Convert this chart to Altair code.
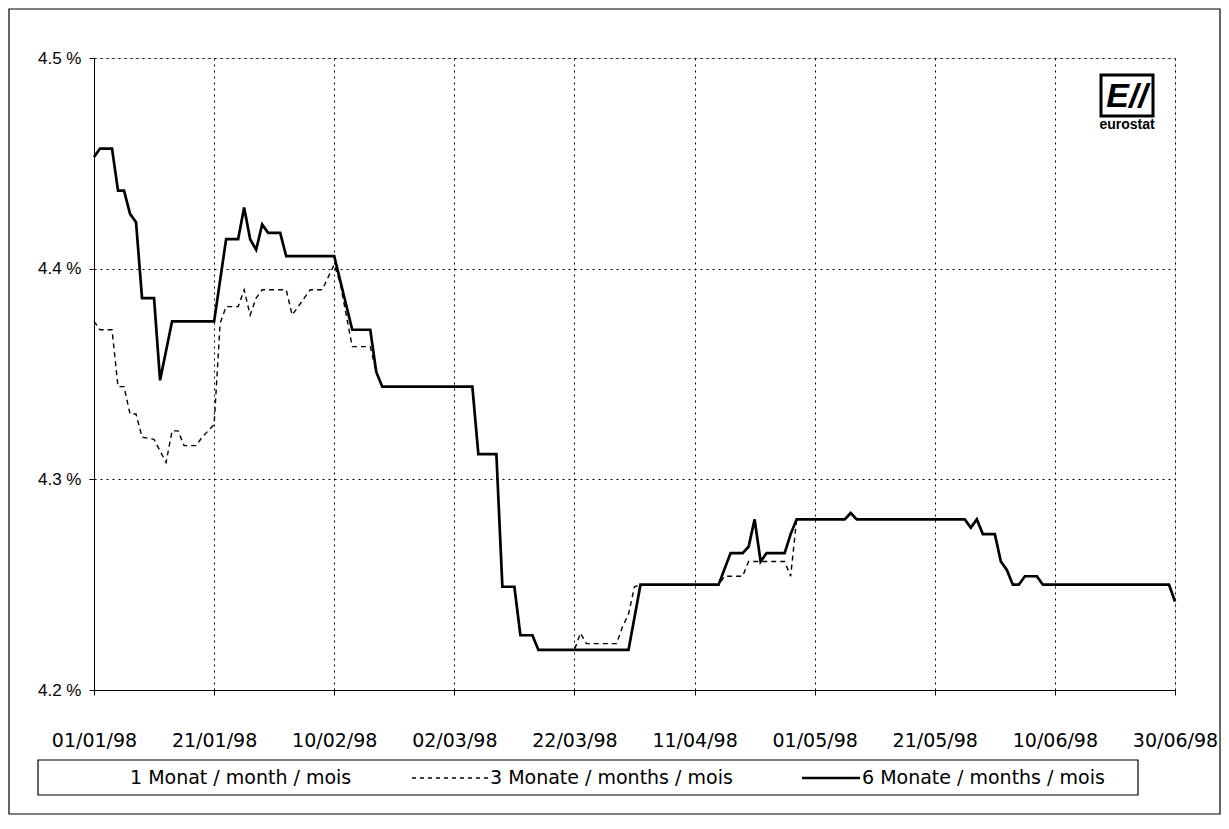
import altair as alt
import pandas as pd

# ---- data (day offset from 01/01/98, value in %) ----
series_names = ["1 Monat / month / mois", "3 Monate / months / mois", "6 Monate / months / mois"]

six_days = [0, 1, 3, 4, 5, 6, 7, 8, 10, 11, 13, 20, 22, 24, 25, 26, 27, 28, 29, 31, 32, 40,
            43, 46, 47, 48, 63, 64, 67, 68, 70, 71, 73, 74, 89, 91, 104, 106, 108, 109, 110,
            111, 112, 115, 116, 117, 125, 126, 127, 145, 146, 147, 148, 150, 151, 152, 153,
            154, 155, 157, 158, 179, 180]
six_vals = [4.453, 4.457, 4.457, 4.437, 4.437, 4.426, 4.422, 4.386, 4.386, 4.347, 4.375, 4.375,
            4.414, 4.414, 4.429, 4.414, 4.409, 4.421, 4.417, 4.417, 4.406, 4.406,
            4.371, 4.371, 4.351, 4.344, 4.344, 4.312, 4.312, 4.249, 4.249, 4.226, 4.226, 4.219,
            4.219, 4.250, 4.250, 4.265, 4.265, 4.268, 4.281,
            4.261, 4.265, 4.265, 4.274, 4.281, 4.281, 4.284, 4.281, 4.281, 4.277, 4.281, 4.274,
            4.274, 4.261, 4.257, 4.250,
            4.250, 4.254, 4.254, 4.250, 4.250, 4.242]

three_days = [0, 1, 3, 4, 5, 6, 7, 8, 10, 12, 13, 14, 15, 17, 18, 19, 20, 21, 22, 24, 25, 26,
              27, 28, 32, 33, 36, 38, 40, 41, 43, 46, 47, 48, 63, 64, 67, 68, 70, 71, 73, 74,
              80, 81, 82, 87, 88, 89, 90, 91, 104, 105, 108, 109, 115, 116, 117, 125, 126, 127,
              145, 146, 147, 148, 150, 151, 152, 153, 154, 155, 157, 158, 179, 180]
three_vals = [4.375, 4.371, 4.371, 4.344, 4.344, 4.331, 4.331, 4.320, 4.319, 4.308, 4.323,
              4.323, 4.316, 4.316, 4.320, 4.323, 4.326, 4.374, 4.382, 4.382, 4.390, 4.378,
              4.386, 4.390, 4.390, 4.378, 4.390, 4.390, 4.402, 4.393, 4.363, 4.363, 4.351,
              4.344, 4.344, 4.312, 4.312, 4.249, 4.249, 4.226, 4.226, 4.219,
              4.219, 4.227, 4.222, 4.222, 4.230, 4.236, 4.249, 4.250, 4.250, 4.254, 4.254,
              4.261, 4.261, 4.254, 4.281, 4.281, 4.284, 4.281,
              4.281, 4.277, 4.281, 4.274, 4.274, 4.261, 4.257, 4.250, 4.250, 4.254, 4.254,
              4.250, 4.250, 4.242]

tick_days = [0, 20, 40, 60, 80, 100, 120, 140, 160, 180]
tick_labels = ["01/01/98", "21/01/98", "10/02/98", "02/03/98", "22/03/98",
               "11/04/98", "01/05/98", "21/05/98", "10/06/98", "30/06/98"]
y_ticks = [4.2, 4.3, 4.4, 4.5]

df3 = pd.DataFrame({"day": three_days, "rate": three_vals, "series": series_names[1]})
df6 = pd.DataFrame({"day": six_days, "rate": six_vals, "series": series_names[2]})

W, H = 1081, 632
FONT = "Liberation Sans"
XFONT = "DejaVu Sans"
label_expr = "[" + ",".join("'%s'" % t for t in tick_labels) + "][round(datum.value/20)]"

x_enc = alt.X("day:Q", scale=alt.Scale(domain=[0, 180], nice=False, zero=False),
              axis=alt.Axis(values=tick_days, labelExpr=label_expr, title=None,
                            grid=True, gridDash=[2, 4], gridColor="black", gridOpacity=1,
                            domainColor="black", tickColor="black", tickSize=5,
                            labelFlush=False, labelOverlap=False,
                            labelFont=XFONT, labelFontSize=19, labelColor="black",
                            labelPadding=36))
y_enc = alt.Y("rate:Q", scale=alt.Scale(domain=[4.2, 4.5], nice=False, zero=False),
              axis=alt.Axis(values=y_ticks, labelExpr="format(datum.value, '.1f') + ' %'",
                            title=None, grid=True, gridDash=[2, 4], gridColor="black",
                            gridOpacity=1, domainColor="black", tickColor="black", tickSize=5,
                            labelFlush=False,
                            labelFont=FONT, labelFontSize=17, labelColor="black",
                            labelPadding=8))

line3 = alt.Chart(df3).mark_line(color="black", strokeWidth=1.4, strokeDash=[5, 4]).encode(
    x=x_enc, y=y_enc, order=alt.Order("day:Q"))
line6 = alt.Chart(df6).mark_line(color="black", strokeWidth=2.7, strokeJoin="miter").encode(
    x=x_enc, y=y_enc, order=alt.Order("day:Q"))

one = pd.DataFrame({"a": [0]})

# ---- legend (drawn by hand, as in the original boxed legend) ----
leg_box = alt.Chart(one).mark_rect(fill="white", stroke="black", strokeWidth=1.2).encode(
    x=alt.value(-56), x2=alt.value(1044), y=alt.value(702), y2=alt.value(737))
leg_s3 = alt.Chart(one).mark_rule(color="black", strokeWidth=1.4, strokeDash=[4, 4]).encode(
    x=alt.value(318), x2=alt.value(394), y=alt.value(720))
leg_s6 = alt.Chart(one).mark_rule(color="black", strokeWidth=2.7).encode(
    x=alt.value(708), x2=alt.value(766), y=alt.value(720))
leg_texts = []
for name, xpos in zip(series_names, [36, 396, 768]):
    leg_texts.append(
        alt.Chart(pd.DataFrame({"t": [name]})).mark_text(
            font=XFONT, fontSize=19, align="left", baseline="middle", color="black").encode(
            x=alt.value(xpos), y=alt.value(720), text="t:N"))

# ---- eurostat logo ----
logo_df = pd.DataFrame({"t": ["E//"], "s": ["eurostat"]})
logo_box = alt.Chart(logo_df).mark_rect(fill="white", stroke="black", strokeWidth=3).encode(
    x=alt.value(1007), x2=alt.value(1059), y=alt.value(17), y2=alt.value(58))
logo_text = alt.Chart(logo_df).mark_text(font=FONT, fontSize=34, fontWeight="bold",
                                         fontStyle="italic", baseline="middle").encode(
    x=alt.value(1033), y=alt.value(39), text="t:N")
logo_sub = alt.Chart(logo_df).mark_text(font=FONT, fontSize=14, fontWeight="bold",
                                        baseline="middle").encode(
    x=alt.value(1033), y=alt.value(67), text="s:N")

frame = alt.Chart(one).mark_rect(fillOpacity=0, stroke="black", strokeWidth=1.2).encode(
    x=alt.value(-85), x2=alt.value(W + 45), y=alt.value(-49), y2=alt.value(H + 124))

chart = alt.layer(frame, line3, line6, logo_box, logo_text, logo_sub,
                  leg_box, leg_s3, leg_s6, *leg_texts).properties(
    width=W, height=H,
    autosize=alt.AutoSizeParams(type="none"),
    padding={"left": 86, "top": 50, "right": 46, "bottom": 125},
).configure_view(stroke="black", strokeWidth=1.2).configure(background="white")

chart.save("out.html", embed_options={"renderer": "svg", "actions": False})
